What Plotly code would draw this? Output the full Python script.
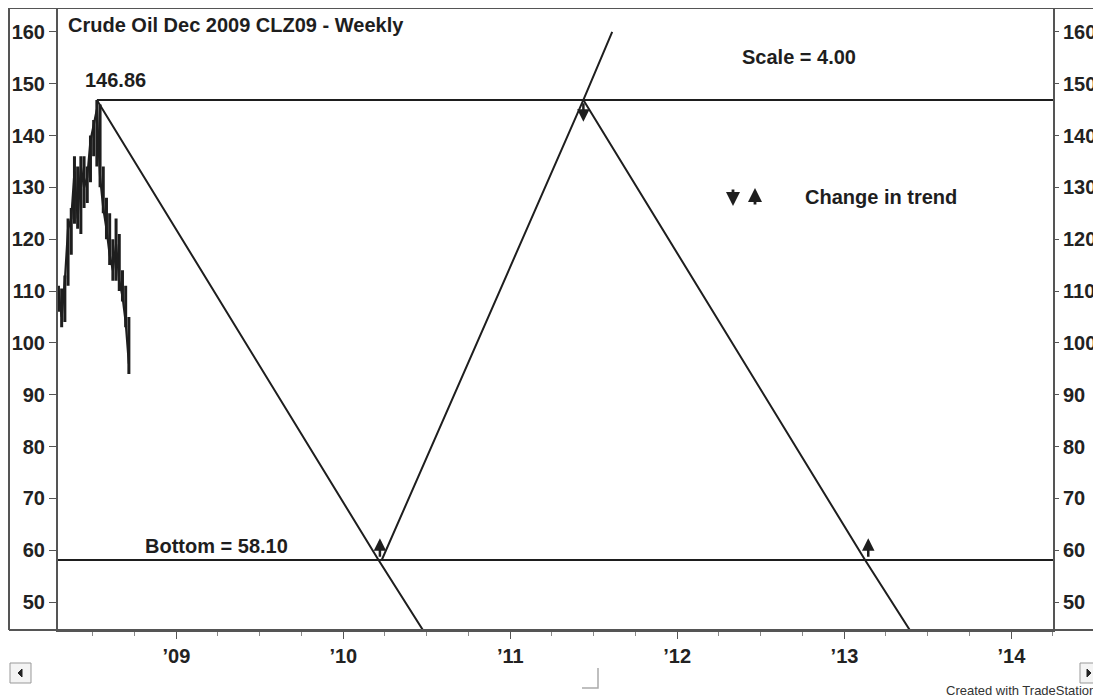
import plotly.graph_objects as go

# weekly bars, Dec 2009 crude (CLZ09)
week_dates = ["2008-04-18", "2008-04-25", "2008-05-02", "2008-05-09", "2008-05-16",
              "2008-05-23", "2008-05-30", "2008-06-06", "2008-06-13", "2008-06-20",
              "2008-06-27", "2008-07-04", "2008-07-11", "2008-07-18", "2008-07-25",
              "2008-08-01", "2008-08-08", "2008-08-15", "2008-08-22", "2008-08-29",
              "2008-09-05", "2008-09-12", "2008-09-19"]
w_open = [108, 110, 105, 112, 122, 125, 133, 124, 134, 130, 132, 139, 142,
          145, 132, 126, 122, 117, 114, 119, 112, 109, 104]
w_high = [111, 110.5, 113, 124, 126, 136, 134, 136, 136, 134, 140, 143, 146.86,
          146, 134, 128, 125, 120, 124, 121, 114, 111, 105]
w_low = [106, 103, 104, 111, 117, 123, 122, 121, 126, 127, 131, 136, 134,
         130, 125, 120, 115, 112, 112, 110, 108, 103, 94]
w_close = [110, 105, 112, 122, 124, 133, 124, 134, 130, 132, 139, 142, 145,
           132, 126, 122, 117, 114, 119, 112, 109, 104, 96]

top_price = 146.86
bottom_price = 58.10

# trend lines (date, price)
down1_dates = ["2008-07-11", "2010-03-19", "2010-07-27"]
down1_vals = [146.86, 58.10, 40]
up1_dates = ["2010-03-26", "2011-06-10", "2011-08-12"]
up1_vals = [58.10, 146.86, 160]
down2_dates = ["2011-06-10", "2013-02-15", "2013-06-26"]
down2_vals = [146.86, 58.10, 40]

# change-in-trend arrows: (date, price at line, direction)
turn_dates = ["2010-03-22", "2011-06-10", "2013-02-22"]
turn_vals = [58.10, 146.86, 58.10]
turn_dirs = ["up", "down", "up"]

year_ticks = ["2009-01-01", "2010-01-01", "2011-01-01", "2012-01-01", "2013-01-01", "2014-01-01"]
year_labels = ["\u201909", "\u201910", "\u201911", "\u201912", "\u201913", "\u201914"]

x_range = ["2008-04-17", "2014-04-02"]
y_range = [44.6, 164.6]

INK = "#1e1e1e"
AX = "#555555"
FONT = "Liberation Sans, Arial, sans-serif"

# the page puts the figure 8px in from the window corner
OFF = 8
W, H = 1101 - OFF, 698 - OFF
L, T, R, B = 58 - OFF, 0, 48, 68

fig = go.Figure()

fig.add_trace(go.Scatter(x=["2008-01-01", "2015-01-01"], y=[bottom_price, bottom_price],
                         mode="lines", line=dict(color=INK, width=2), hoverinfo="skip"))
fig.add_trace(go.Scatter(x=[week_dates[12], "2015-01-01"], y=[top_price, top_price],
                         mode="lines", line=dict(color=INK, width=2), hoverinfo="skip"))
for xs, ys in [(down1_dates, down1_vals), (up1_dates, up1_vals), (down2_dates, down2_vals)]:
    fig.add_trace(go.Scatter(x=xs, y=ys, mode="lines", line=dict(color=INK, width=2),
                             hoverinfo="skip"))

fig.add_trace(go.Ohlc(x=week_dates, open=w_open, high=w_high, low=w_low, close=w_close,
                      increasing_line_color=INK, decreasing_line_color=INK,
                      line_width=3, tickwidth=0.3))
fig.add_trace(go.Scatter(x=week_dates, y=w_close, mode="lines",
                         line=dict(color=INK, width=2.2)))
# invisible trace so the right axis is drawn
fig.add_trace(go.Scatter(x=week_dates[:1], y=w_close[:1], yaxis="y2", mode="markers",
                         marker=dict(opacity=0), hoverinfo="skip"))

tickfont = dict(family=FONT, size=20, color="#222", weight="bold")

fig.update_layout(
    width=W, height=H,
    margin=dict(l=L, r=R, t=T, b=B, pad=0),
    paper_bgcolor="white", plot_bgcolor="white",
    showlegend=False,
    font=dict(family=FONT, color="#222"),
    xaxis=dict(type="date", range=x_range, showgrid=False, zeroline=False,
               showline=True, linecolor=AX, linewidth=2,
               tickmode="array", tickvals=year_ticks, ticktext=year_labels,
               ticks="outside", ticklen=7, tickcolor=AX, tickwidth=1,
               tickfont=tickfont,
               minor=dict(dtick="M3", tick0="2009-01-01", ticks="outside",
                          ticklen=4, tickcolor="#888"),
               rangeslider=dict(visible=False)),
    yaxis=dict(range=y_range, dtick=10, tick0=50, showgrid=False, zeroline=False,
               showline=True, linecolor=AX, linewidth=2,
               ticks="outside", ticklen=7, tickcolor=AX, tickfont=tickfont),
    yaxis2=dict(range=y_range, dtick=10, tick0=50, overlaying="y", side="right",
                showgrid=False, zeroline=False, showline=True, linecolor=AX, linewidth=2,
                ticks="outside", ticklen=4, tickcolor=AX, tickfont=tickfont),
)

bold = dict(family=FONT, size=20, color="#1e1e1e", weight="bold")


# window pixel -> paper fraction
def px(xw):
    return (xw - OFF - L) / (W - L - R)


def py(yw):
    return (H - B - (yw - OFF)) / (H - B - T)


texts = [
    ("Crude Oil Dec 2009 CLZ09 - Weekly", 66, 25, "left"),
    ("146.86", 115, 80, "center"),
    ("Scale = 4.00", 799, 57, "center"),
    ("Change in trend", 803, 197, "left"),
    ("Bottom = 58.10", 143, 546, "left"),
]
for t, x0, y0, anc in texts:
    fig.add_annotation(text=t, x=px(x0), y=py(y0), xref="paper", yref="paper",
                       xanchor=anc, yanchor="middle", showarrow=False, font=bold)

fig.add_annotation(text="Created with TradeStation", x=px(1098), y=py(690), xref="paper",
                   yref="paper", xanchor="right", yanchor="middle", showarrow=False,
                   font=dict(family=FONT, size=13, color="#333"))

# change-in-trend arrows on the chart
for d, v, dr in zip(turn_dates, turn_vals, turn_dirs):
    off = 4.2 if dr == "up" else -4.2
    fig.add_annotation(x=d, y=v + off, text="", showarrow=True, ax=0,
                       ay=20 if dr == "up" else -20, arrowhead=2, arrowsize=1,
                       arrowwidth=2.5, arrowcolor=INK)

# legend arrows
fig.add_annotation(x=px(733), y=py(206), xref="paper", yref="paper", text="", showarrow=True,
                   ax=0, ay=-18, arrowhead=2, arrowsize=1, arrowwidth=2.8, arrowcolor=INK)
fig.add_annotation(x=px(755), y=py(188), xref="paper", yref="paper", text="", showarrow=True,
                   ax=0, ay=18, arrowhead=2, arrowsize=1, arrowwidth=2.8, arrowcolor=INK)

# window frame and scroll bar
frame = [
    dict(x0=px(9), x1=px(1101), y0=py(8), y1=py(8)),
    dict(x0=px(9), x1=px(9), y0=py(8), y1=py(630)),
    dict(x0=px(9), x1=px(1101), y0=py(630), y1=py(630)),
]
for f in frame:
    fig.add_shape(type="line", xref="paper", yref="paper", line=dict(color=AX, width=2), **f)
fig.add_shape(type="rect", xref="paper", yref="paper", x0=px(10), x1=px(31), y0=py(683),
              y1=py(663), line=dict(color="#999", width=1), fillcolor="#f4f4f4")
fig.add_shape(type="rect", xref="paper", yref="paper", x0=px(1080), x1=px(1097), y0=py(683),
              y1=py(663), line=dict(color="#999", width=1), fillcolor="#f4f4f4")
fig.add_shape(type="path", xref="paper", yref="paper",
              path=f"M {px(582)},{py(688)} L {px(598)},{py(688)} L {px(598)},{py(668)}",
              line=dict(color="#aaa", width=1.5))
fig.add_shape(type="path", xref="paper", yref="paper",
              path=f"M {px(18)},{py(673)} L {px(22)},{py(669)} L {px(22)},{py(677)} Z",
              line=dict(color="#222", width=1), fillcolor="#222")
fig.add_shape(type="path", xref="paper", yref="paper",
              path=f"M {px(1091)},{py(673)} L {px(1087)},{py(669)} L {px(1087)},{py(677)} Z",
              line=dict(color="#222", width=1), fillcolor="#222")

fig.write_html("out.html")
